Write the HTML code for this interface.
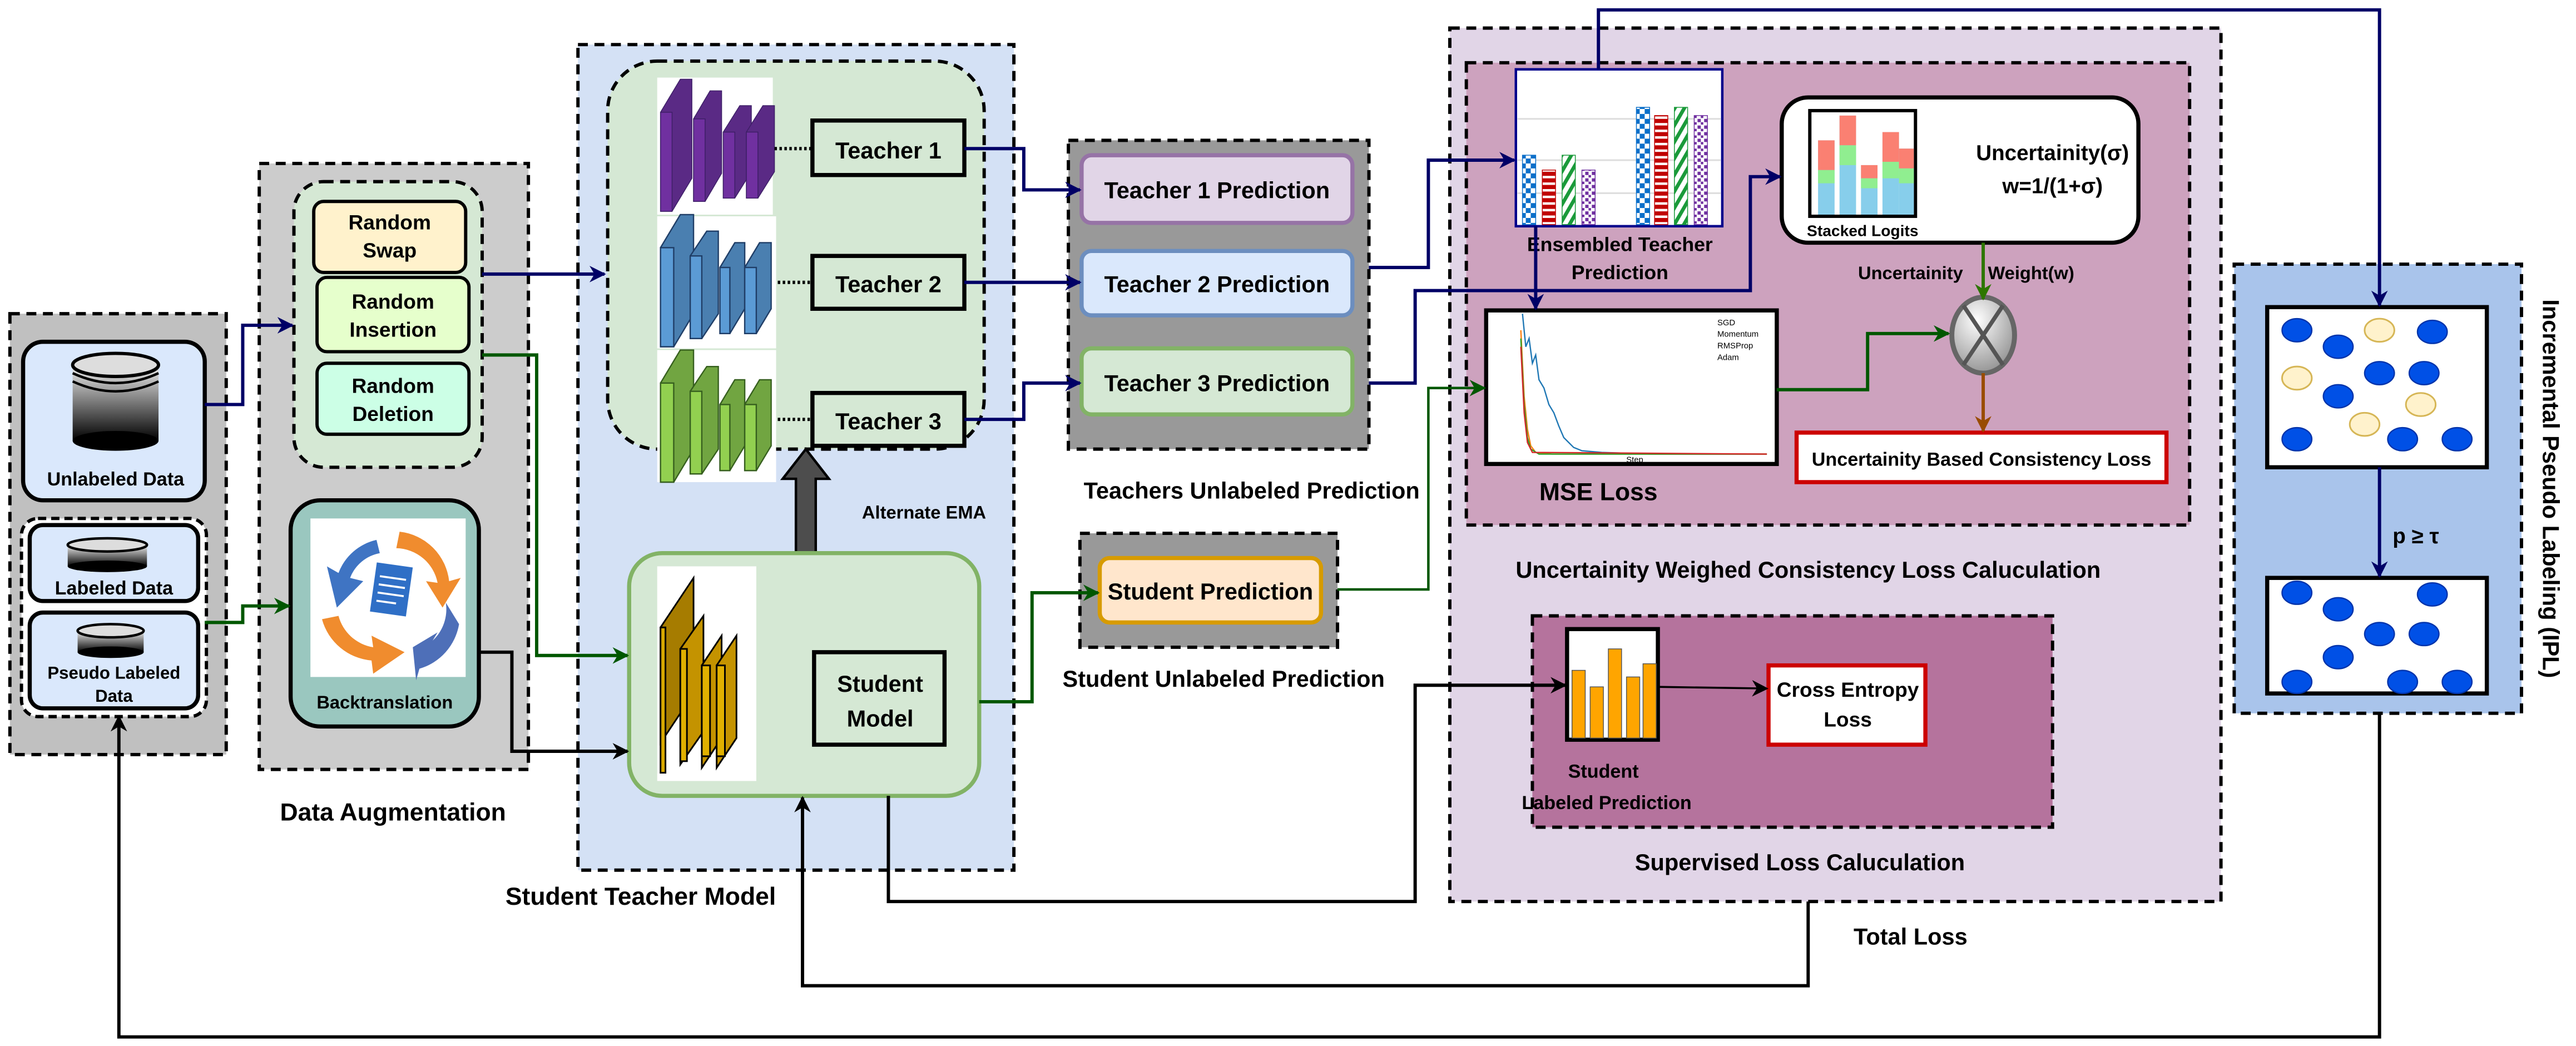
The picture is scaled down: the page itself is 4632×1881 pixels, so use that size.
<!DOCTYPE html>
<html><head><meta charset="utf-8"><style>
html,body{margin:0;padding:0;background:#fff}
svg{display:block}
text{font-family:"Liberation Sans",Arial,sans-serif;font-weight:bold;fill:#000}
</style></head><body>
<svg width="4632" height="1881" viewBox="0 0 1560 633.5" preserveAspectRatio="none" xmlns="http://www.w3.org/2000/svg">
<defs>
<marker id="an" markerWidth="10" markerHeight="10" refX="9" refY="5" orient="auto" markerUnits="userSpaceOnUse"><path d="M0,0 L10,5 L0,10 L3,5 z" fill="#000066"/></marker>
<marker id="ag" markerWidth="10" markerHeight="10" refX="9" refY="5" orient="auto" markerUnits="userSpaceOnUse"><path d="M0,0 L10,5 L0,10 L3,5 z" fill="#005700"/></marker>
<marker id="agl" markerWidth="10" markerHeight="10" refX="9" refY="5" orient="auto" markerUnits="userSpaceOnUse"><path d="M0,0 L10,5 L0,10 L3,5 z" fill="#2d7600"/></marker>
<marker id="ab" markerWidth="10" markerHeight="10" refX="9" refY="5" orient="auto" markerUnits="userSpaceOnUse"><path d="M0,0 L10,5 L0,10 L3,5 z" fill="#000"/></marker>
<marker id="abr" markerWidth="10" markerHeight="10" refX="9" refY="5" orient="auto" markerUnits="userSpaceOnUse"><path d="M0,0 L10,5 L0,10 L3,5 z" fill="#994c00"/></marker>
<linearGradient id="cyl" x1="0" y1="0" x2="0" y2="1"><stop offset="0" stop-color="#eee"/><stop offset="1" stop-color="#000"/></linearGradient>
<radialGradient id="circ" cx="0.4" cy="0.3" r="0.8"><stop offset="0" stop-color="#fff"/><stop offset="1" stop-color="#888"/></radialGradient>
<pattern id="pchk" width="6" height="6" patternUnits="userSpaceOnUse"><rect width="6" height="6" fill="#fff"/><rect width="3" height="3" fill="#0b6fc9"/><rect x="3" y="3" width="3" height="3" fill="#0b6fc9"/></pattern>
<pattern id="pred" width="4" height="4" patternUnits="userSpaceOnUse"><rect width="4" height="4" fill="#fff"/><rect width="4" height="2.5" fill="#c00000"/></pattern>
<pattern id="pgrn" width="5" height="5" patternUnits="userSpaceOnUse" patternTransform="rotate(30)"><rect width="5" height="5" fill="#fff"/><rect width="2.2" height="5" fill="#1a9a3a"/></pattern>
<pattern id="ppur" width="4" height="4" patternUnits="userSpaceOnUse"><rect width="4" height="4" fill="#fff"/><rect width="2" height="2" fill="#7030a0"/><rect x="2" y="2" width="1.5" height="1.5" fill="#7030a0"/></pattern>
</defs>

<!-- LEFT DATA PANEL -->
<rect x="6" y="190" width="131" height="267" fill="#c0c0c0" stroke="#000" stroke-width="2" stroke-dasharray="6,4"/>
<rect x="14" y="207" width="110" height="96" rx="12" fill="#dae8fc" stroke="#000" stroke-width="2.5"/>
<rect x="44" y="221" width="52" height="46" fill="url(#cyl)"/>
<ellipse cx="70" cy="267" rx="26" ry="6" fill="#000"/>
<ellipse cx="70" cy="221" rx="26" ry="7" fill="#ddd" stroke="#000" stroke-width="2"/>
<path d="M44,226 Q70,238 96,226 M44,231 Q70,243 96,231" stroke="#000" stroke-width="1.5" fill="none"/>
<text x="70" y="294" font-size="11.5" text-anchor="middle">Unlabeled Data</text>
<rect x="13" y="314" width="112" height="120" rx="10" fill="#fff" stroke="#000" stroke-width="2" stroke-dasharray="5,3"/>
<rect x="18" y="318" width="102" height="46" rx="8" fill="#dae8fc" stroke="#000" stroke-width="2.5"/>
<rect x="41" y="330" width="48" height="13" fill="url(#cyl)"/>
<ellipse cx="65" cy="343" rx="24" ry="3.5" fill="#000"/>
<ellipse cx="65" cy="330" rx="24" ry="4" fill="#ddd" stroke="#000" stroke-width="1.5"/>
<text x="69" y="360" font-size="11.5" text-anchor="middle">Labeled Data</text>
<rect x="18" y="371" width="102" height="58" rx="8" fill="#dae8fc" stroke="#000" stroke-width="2.5"/>
<rect x="47" y="382" width="40" height="13" fill="url(#cyl)"/>
<ellipse cx="67" cy="395" rx="20" ry="3.5" fill="#000"/>
<ellipse cx="67" cy="382" rx="20" ry="4" fill="#ddd" stroke="#000" stroke-width="1.5"/>
<text x="69" y="411" font-size="10.5" text-anchor="middle">Pseudo Labeled</text>
<text x="69" y="425" font-size="10.5" text-anchor="middle">Data</text>

<!-- DATA AUGMENTATION -->
<rect x="157" y="99" width="163" height="367" fill="#cccccc" stroke="#000" stroke-width="2" stroke-dasharray="6,4"/>
<rect x="178" y="110" width="114" height="173" rx="18" fill="#d5e8d4" stroke="#000" stroke-width="2" stroke-dasharray="6,4"/>
<rect x="190" y="122" width="92" height="43" rx="6" fill="#fff2cc" stroke="#000" stroke-width="2"/>
<text x="236" y="139" font-size="12.5" text-anchor="middle">Random</text>
<text x="236" y="156" font-size="12.5" text-anchor="middle">Swap</text>
<rect x="192" y="168" width="92" height="45" rx="6" fill="#e6ffcc" stroke="#000" stroke-width="2"/>
<text x="238" y="187" font-size="12.5" text-anchor="middle">Random</text>
<text x="238" y="204" font-size="12.5" text-anchor="middle">Insertion</text>
<rect x="192" y="220" width="92" height="43" rx="6" fill="#ccffe6" stroke="#000" stroke-width="2"/>
<text x="238" y="238" font-size="12.5" text-anchor="middle">Random</text>
<text x="238" y="255" font-size="12.5" text-anchor="middle">Deletion</text>
<rect x="176" y="303" width="114" height="137" rx="18" fill="#9ac7bf" stroke="#000" stroke-width="2.5"/>
<rect x="188" y="314" width="94" height="96" fill="#fff"/>
<path d="M228,327 A32,32 0 0 0 205,347 L198,343 L204,368 L220,352 L212,350 A24,24 0 0 1 230,335 z" fill="#3f74c3"/>
<path d="M242,322 A34,34 0 0 1 272,352 L279,350 L268,368 L258,352 L265,353 A26,26 0 0 0 240,332 z" fill="#f08c2e"/>
<path d="M195,375 A34,34 0 0 0 225,400 L226,408 L245,395 L225,385 L226,392 A26,26 0 0 1 205,373 z" fill="#f08c2e"/>
<path d="M278,378 A34,34 0 0 1 254,405 L252,412 L250,392 L265,383 L262,388 A26,26 0 0 0 270,365 z" fill="#4e6fb8"/>
<rect x="226" y="342" width="22" height="30" fill="#2f6fc6" transform="rotate(8 237 357)"/>
<path d="M229,350 h16 M229,355 h16 M229,360 h16 M229,365 h12" stroke="#fff" stroke-width="1.2" transform="rotate(8 237 357)"/>
<text x="233" y="429" font-size="11" text-anchor="middle">Backtranslation</text>
<text x="238" y="497" font-size="15" text-anchor="middle">Data Augmentation</text>

<!-- STUDENT TEACHER MODEL -->
<rect x="350" y="27" width="264" height="500" fill="#d4e1f5" stroke="#000" stroke-width="2" stroke-dasharray="6,4"/>
<rect x="368" y="37" width="228" height="235" rx="30" fill="#d5e8d4" stroke="#000" stroke-width="2" stroke-dasharray="6,4"/>
<rect x="398" y="47" width="70" height="83" fill="#fff"/>
<g stroke="#3d1f66" stroke-width="0.5">
<path d="M400,68 l12,-20 h7 v60 l-12,20 h-7z" fill="#5a2a85"/><rect x="400" y="68" width="7" height="60" fill="#7030a0"/>
<path d="M420,72 l10,-17 h7 v50 l-10,17 h-7z" fill="#5a2a85"/><rect x="420" y="72" width="7" height="50" fill="#7030a0"/>
<path d="M438,80 l10,-16 h7 v40 l-10,16 h-7z" fill="#5a2a85"/><rect x="438" y="80" width="7" height="40" fill="#7030a0"/>
<path d="M452,80 l10,-16 h7 v40 l-10,16 h-7z" fill="#5a2a85"/><rect x="452" y="80" width="7" height="40" fill="#7030a0"/>
</g>
<rect x="398" y="131" width="72" height="80" fill="#fff"/>
<g stroke="#1f3d66" stroke-width="0.8">
<path d="M400,150 l12,-20 h8 v60 l-12,20 h-8z" fill="#4a7fb0"/><rect x="400" y="150" width="8" height="60" fill="#5b9bd5"/>
<path d="M418,155 l10,-15 h7 v50 l-10,15 h-7z" fill="#4a7fb0"/><rect x="418" y="155" width="7" height="50" fill="#5b9bd5"/>
<path d="M436,162 l9,-15 h6 v40 l-9,15 h-6z" fill="#4a7fb0"/><rect x="436" y="162" width="6" height="40" fill="#5b9bd5"/>
<path d="M451,162 l9,-15 h7 v40 l-9,15 h-7z" fill="#4a7fb0"/><rect x="451" y="162" width="7" height="40" fill="#5b9bd5"/>
</g>
<rect x="398" y="212" width="72" height="80" fill="#fff"/>
<g stroke="#365f1e" stroke-width="0.8">
<path d="M400,232 l12,-20 h8 v60 l-12,20 h-8z" fill="#71a541"/><rect x="400" y="232" width="8" height="60" fill="#92d050"/>
<path d="M418,237 l10,-15 h7 v50 l-10,15 h-7z" fill="#71a541"/><rect x="418" y="237" width="7" height="50" fill="#92d050"/>
<path d="M436,245 l9,-15 h6 v40 l-9,15 h-6z" fill="#71a541"/><rect x="436" y="245" width="6" height="40" fill="#92d050"/>
<path d="M451,245 l9,-15 h7 v40 l-9,15 h-7z" fill="#71a541"/><rect x="451" y="245" width="7" height="40" fill="#92d050"/>
</g>
<g stroke="#000" stroke-width="2" stroke-dasharray="1.5,1.5">
<line x1="469" y1="90" x2="492" y2="90"/><line x1="471" y1="171" x2="492" y2="171"/><line x1="471" y1="254" x2="492" y2="254"/><line x1="459" y1="420" x2="493" y2="420"/>
</g>
<rect x="492" y="73" width="92" height="33" fill="#d5e8d4" stroke="#000" stroke-width="2.5"/>
<text x="538" y="96" font-size="14" text-anchor="middle">Teacher 1</text>
<rect x="492" y="155" width="92" height="32" fill="#d5e8d4" stroke="#000" stroke-width="2.5"/>
<text x="538" y="177" font-size="14" text-anchor="middle">Teacher 2</text>
<rect x="492" y="238" width="92" height="32" fill="#d5e8d4" stroke="#000" stroke-width="2.5"/>
<text x="538" y="260" font-size="14" text-anchor="middle">Teacher 3</text>
<path d="M482,335 V290 H474 L488,272 L502,290 H494 V335 z" fill="#4d4d4d" stroke="#000" stroke-width="1.5"/>
<text x="522" y="314" font-size="11" text-anchor="start">Alternate EMA</text>
<rect x="381" y="335" width="212" height="147" rx="20" fill="#d5e8d4" stroke="#82b366" stroke-width="2.5"/>
<rect x="398" y="343" width="60" height="130" fill="#fff"/>
<g stroke="#000" stroke-width="1">
<path d="M400,380 l20,-30 v70 l-20,30 z" fill="#a67c00"/><rect x="400" y="380" width="3" height="88" fill="#d8a800"/>
<path d="M412,393 l14,-20 v70 l-14,20 z" fill="#c49300"/><rect x="412" y="393" width="4" height="68" fill="#e0b000"/>
<path d="M425,403 l12,-18 v62 l-12,18 z" fill="#c49300"/><rect x="425" y="403" width="5" height="55" fill="#e0b000"/>
<path d="M434,403 l12,-18 v62 l-12,18 z" fill="#c49300"/><rect x="434" y="403" width="5" height="55" fill="#e0b000"/>
</g>
<rect x="493" y="395" width="79" height="56" fill="#d5e8d4" stroke="#000" stroke-width="2.5"/>
<text x="533" y="419" font-size="14" text-anchor="middle">Student</text>
<text x="533" y="440" font-size="14" text-anchor="middle">Model</text>
<text x="388" y="548" font-size="15" text-anchor="middle">Student Teacher Model</text>

<!-- TEACHERS PREDICTIONS -->
<rect x="647" y="85" width="182" height="187" fill="#999999" stroke="#000" stroke-width="2" stroke-dasharray="6,4"/>
<rect x="655" y="94" width="164" height="41" rx="6" fill="#e1d5e7" stroke="#9673a6" stroke-width="2.5"/>
<text x="737" y="120" font-size="14" text-anchor="middle">Teacher 1 Prediction</text>
<rect x="655" y="152" width="164" height="39" rx="6" fill="#dae8fc" stroke="#6c8ebf" stroke-width="2.5"/>
<text x="737" y="177" font-size="14" text-anchor="middle">Teacher 2 Prediction</text>
<rect x="655" y="211" width="164" height="40" rx="6" fill="#d5e8d4" stroke="#82b366" stroke-width="2.5"/>
<text x="737" y="237" font-size="14" text-anchor="middle">Teacher 3 Prediction</text>
<text x="758" y="302" font-size="14" text-anchor="middle">Teachers Unlabeled Prediction</text>
<rect x="654" y="323" width="156" height="69" fill="#999999" stroke="#000" stroke-width="2" stroke-dasharray="6,4"/>
<rect x="666" y="338" width="134" height="39" rx="6" fill="#ffe6cc" stroke="#d79b00" stroke-width="2.5"/>
<text x="733" y="363" font-size="14" text-anchor="middle">Student Prediction</text>
<text x="741" y="416" font-size="14" text-anchor="middle">Student Unlabeled Prediction</text>

<!-- LOSS PANELS -->
<rect x="878" y="17" width="467" height="529" fill="#e1d5e7" stroke="#000" stroke-width="2" stroke-dasharray="6,4"/>
<rect x="888" y="38" width="438" height="280" fill="#cda2be" stroke="#000" stroke-width="2" stroke-dasharray="6,4"/>
<rect x="918" y="42" width="125" height="95" fill="#fff" stroke="#00008b" stroke-width="1.5"/>
<g stroke="#ddd" stroke-width="1"><line x1="919" y1="72" x2="1042" y2="72"/><line x1="919" y1="97" x2="1042" y2="97"/><line x1="919" y1="117" x2="1042" y2="117"/></g>
<rect x="922" y="94" width="8" height="42" fill="url(#pchk)" stroke="#0b6fc9" stroke-width="0.5"/>
<rect x="934" y="103" width="8" height="33" fill="url(#pred)" stroke="#c00000" stroke-width="0.5"/>
<rect x="946" y="94" width="8" height="42" fill="url(#pgrn)" stroke="#1a9a3a" stroke-width="0.5"/>
<rect x="958" y="103" width="8" height="33" fill="url(#ppur)" stroke="#7030a0" stroke-width="0.5"/>
<rect x="991" y="65" width="8" height="71" fill="url(#pchk)" stroke="#0b6fc9" stroke-width="0.5"/>
<rect x="1002" y="70" width="8" height="66" fill="url(#pred)" stroke="#c00000" stroke-width="0.5"/>
<rect x="1014" y="65" width="8" height="71" fill="url(#pgrn)" stroke="#1a9a3a" stroke-width="0.5"/>
<rect x="1026" y="70" width="8" height="66" fill="url(#ppur)" stroke="#7030a0" stroke-width="0.5"/>
<text x="981" y="152" font-size="12" text-anchor="middle">Ensembled Teacher</text>
<text x="981" y="169" font-size="12" text-anchor="middle">Prediction</text>
<rect x="1079" y="59" width="216" height="88" rx="16" fill="#fff" stroke="#000" stroke-width="2.5"/>
<rect x="1096" y="67" width="64" height="64" fill="#fff" stroke="#000" stroke-width="2"/>
<g>
<rect x="1101" y="85" width="10" height="45" fill="#87ceeb"/><rect x="1101" y="85" width="10" height="18" fill="#fa8072"/><rect x="1101" y="103" width="10" height="8" fill="#90ee90"/>
<rect x="1114" y="70" width="10" height="60" fill="#87ceeb"/><rect x="1114" y="70" width="10" height="18" fill="#fa8072"/><rect x="1114" y="88" width="10" height="12" fill="#90ee90"/>
<rect x="1127" y="100" width="10" height="30" fill="#87ceeb"/><rect x="1127" y="100" width="10" height="8" fill="#fa8072"/><rect x="1127" y="108" width="10" height="6" fill="#90ee90"/>
<rect x="1140" y="80" width="10" height="50" fill="#87ceeb"/><rect x="1140" y="80" width="10" height="18" fill="#fa8072"/><rect x="1140" y="98" width="10" height="10" fill="#90ee90"/>
<rect x="1150" y="90" width="9" height="40" fill="#87ceeb"/><rect x="1150" y="90" width="9" height="12" fill="#fa8072"/><rect x="1150" y="102" width="9" height="9" fill="#90ee90"/>
</g>
<text x="1128" y="143" font-size="9.5" text-anchor="middle">Stacked Logits</text>
<text x="1243" y="97" font-size="13" text-anchor="middle">Uncertainity(σ)</text>
<text x="1243" y="117" font-size="13" text-anchor="middle">w=1/(1+σ)</text>
<text x="1157" y="169" font-size="11" text-anchor="middle">Uncertainity</text>
<text x="1230" y="169" font-size="11" text-anchor="middle">Weight(w)</text>
<rect x="900" y="188" width="176" height="93" fill="#fff" stroke="#000" stroke-width="2.5"/>
<g fill="none" stroke-width="0.8">
<polyline points="922,190 924,210 926,205 928,220 930,215 932,230 935,235 938,245 941,250 944,258 947,265 950,268 953,271 958,273 970,274 1000,275 1070,275" stroke="#1f77b4"/>
<polyline points="921,200 923,240 925,260 927,270 930,274 940,275 1070,275" stroke="#ff7f0e"/>
<polyline points="921,205 923,245 925,265 927,272 932,275 1070,275" stroke="#2ca02c"/>
<polyline points="921,210 923,250 925,268 928,274 1070,275" stroke="#d62728"/>
</g>
<text x="1040" y="197" font-size="5" style="font-weight:normal">SGD</text>
<text x="1040" y="204" font-size="5" style="font-weight:normal">Momentum</text>
<text x="1040" y="211" font-size="5" style="font-weight:normal">RMSProp</text>
<text x="1040" y="218" font-size="5" style="font-weight:normal">Adam</text>
<text x="990" y="280" font-size="5" text-anchor="middle" style="font-weight:normal">Step</text>
<text x="968" y="303" font-size="15" text-anchor="middle">MSE Loss</text>
<ellipse cx="1201" cy="203" rx="19" ry="23" fill="url(#circ)" stroke="#666" stroke-width="3"/>
<path d="M1189,185 L1213,221 M1213,185 L1189,221" stroke="#555" stroke-width="2.5"/>
<rect x="1088" y="262" width="224" height="30" fill="#fff" stroke="#cc0000" stroke-width="2.5"/>
<text x="1200" y="282" font-size="11.5" text-anchor="middle">Uncertainity Based Consistency Loss</text>
<text x="1095" y="350" font-size="14" text-anchor="middle">Uncertainity Weighed Consistency Loss Caluculation</text>
<rect x="928" y="373" width="315" height="128" fill="#b5739d" stroke="#000" stroke-width="2" stroke-dasharray="6,4"/>
<rect x="949" y="381" width="55" height="67" fill="#fff" stroke="#000" stroke-width="2.5"/>
<g fill="#ffa500" stroke="#555" stroke-width="0.5">
<rect x="952" y="406" width="8" height="41"/><rect x="963" y="416" width="8" height="31"/><rect x="974" y="393" width="8" height="54"/><rect x="985" y="410" width="8" height="37"/><rect x="995" y="402" width="8" height="45"/>
</g>
<text x="971" y="471" font-size="11.5" text-anchor="middle">Student</text>
<text x="973" y="490" font-size="11.5" text-anchor="middle">Labeled Prediction</text>
<rect x="1071" y="403" width="95" height="48" fill="#fff" stroke="#cc0000" stroke-width="2.5"/>
<text x="1119" y="422" font-size="12.5" text-anchor="middle">Cross Entropy</text>
<text x="1119" y="440" font-size="12.5" text-anchor="middle">Loss</text>
<text x="1090" y="527" font-size="14" text-anchor="middle">Supervised Loss Caluculation</text>
<text x="1157" y="572" font-size="14" text-anchor="middle">Total Loss</text>

<!-- IPL -->
<rect x="1353" y="160" width="174" height="272" fill="#a9c4eb" stroke="#000" stroke-width="2" stroke-dasharray="6,4"/>
<rect x="1373" y="186" width="133" height="97" fill="#fff" stroke="#000" stroke-width="2.5"/>
<g fill="#0050e6" stroke="#0033aa" stroke-width="0.8">
<ellipse cx="1391" cy="200" rx="9" ry="7"/><ellipse cx="1416" cy="210" rx="9" ry="7"/><ellipse cx="1473" cy="201" rx="9" ry="7"/>
<ellipse cx="1441" cy="226" rx="9" ry="7"/><ellipse cx="1468" cy="226" rx="9" ry="7"/><ellipse cx="1416" cy="240" rx="9" ry="7"/>
<ellipse cx="1391" cy="266" rx="9" ry="7"/><ellipse cx="1455" cy="266" rx="9" ry="7"/><ellipse cx="1488" cy="266" rx="9" ry="7"/>
</g>
<g fill="#fff2cc" stroke="#d6b656" stroke-width="1">
<ellipse cx="1441" cy="200" rx="9" ry="7"/><ellipse cx="1391" cy="229" rx="9" ry="7"/><ellipse cx="1466" cy="245" rx="9" ry="7"/><ellipse cx="1432" cy="257" rx="9" ry="7"/>
</g>
<rect x="1373" y="350" width="133" height="70" fill="#fff" stroke="#000" stroke-width="2.5"/>
<g fill="#0050e6" stroke="#0033aa" stroke-width="0.8">
<ellipse cx="1391" cy="359" rx="9" ry="7"/><ellipse cx="1416" cy="369" rx="9" ry="7"/><ellipse cx="1473" cy="360" rx="9" ry="7"/>
<ellipse cx="1441" cy="384" rx="9" ry="7"/><ellipse cx="1468" cy="384" rx="9" ry="7"/><ellipse cx="1416" cy="398" rx="9" ry="7"/>
<ellipse cx="1391" cy="413" rx="9" ry="7"/><ellipse cx="1455" cy="413" rx="9" ry="7"/><ellipse cx="1488" cy="413" rx="9" ry="7"/>
</g>
<text x="1463" y="329" font-size="13" text-anchor="middle">p ≥ τ</text>
<text x="0" y="0" font-size="14" text-anchor="middle" transform="translate(1540,296) rotate(90)">Incremental Pseudo Labeling (IPL)</text>

<!-- CONNECTORS -->
<g fill="none" stroke-width="2">
<polyline points="124,245 147,245 147,197 177,197" stroke="#000066" marker-end="url(#an)"/>
<polyline points="124,377 147,377 147,367 175,367" stroke="#005700" marker-end="url(#ag)"/>
<polyline points="292,166 366,166" stroke="#000066" marker-end="url(#an)"/>
<polyline points="292,215 325,215 325,397 380,397" stroke="#005700" marker-end="url(#ag)"/>
<polyline points="290,395 310,395 310,455 380,455" stroke="#000" marker-end="url(#ab)"/>
<polyline points="584,90 620,90 620,115 654,115" stroke="#000066" marker-end="url(#an)"/>
<polyline points="584,171 654,171" stroke="#000066" marker-end="url(#an)"/>
<polyline points="584,254 620,254 620,232 654,232" stroke="#000066" marker-end="url(#an)"/>
<polyline points="593,425 625,425 625,359 665,359" stroke="#005700" marker-end="url(#ag)"/>
<polyline points="829,162 865,162 865,97 917,97" stroke="#000066" marker-end="url(#an)"/>
<polyline points="829,232 857,232 857,176 1060,176 1060,107 1078,107" stroke="#000066" marker-end="url(#an)"/>
<polyline points="930,137 930,187" stroke="#000066" marker-end="url(#an)"/>
<polyline points="810,357 865,357 865,235 899,235" stroke="#005700" marker-end="url(#ag)" stroke-width="1.5"/>
<polyline points="1076,236 1131,236 1131,202 1180,202" stroke="#005700" marker-end="url(#ag)"/>
<polyline points="1201,147 1201,181" stroke="#2d7600" marker-end="url(#agl)"/>
<polyline points="1201,226 1201,261" stroke="#994c00" marker-end="url(#abr)"/>
<polyline points="968,42 968,6 1441,6 1441,185" stroke="#000066" marker-end="url(#an)"/>
<polyline points="1441,283 1441,349" stroke="#000066" marker-end="url(#an)"/>
<polyline points="538,482 538,546 857,546 857,415 948,415" stroke="#000" marker-end="url(#ab)"/>
<polyline points="1004,416 1070,417" stroke="#000" stroke-width="1.2" marker-end="url(#ab)"/>
<polyline points="1095,546 1095,597 486,597 486,483" stroke="#000" marker-end="url(#ab)"/>
<polyline points="1441,432 1441,628 72,628 72,434" stroke="#000" marker-end="url(#ab)"/>
</g>
</svg>
</body></html>
